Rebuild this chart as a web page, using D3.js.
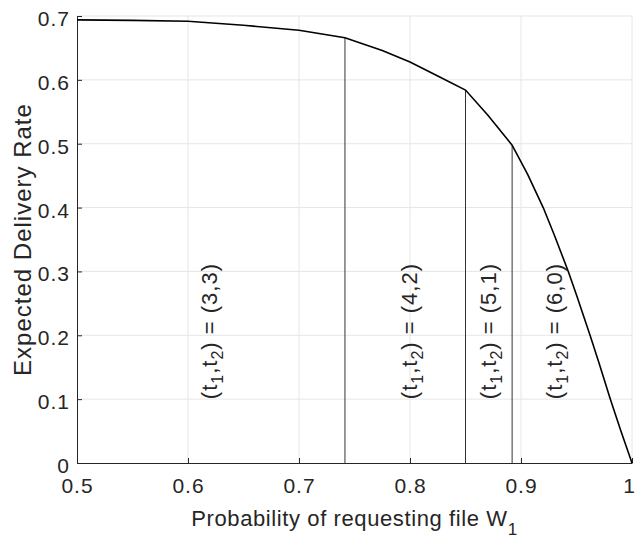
<!DOCTYPE html>
<html>
<head>
<meta charset="utf-8">
<script src="https://cdn.jsdelivr.net/npm/d3@7"></script>
<style>
  html, body { margin: 0; padding: 0; background: #fff; }
  svg text { font-family: "Liberation Sans", Arial, Helvetica, sans-serif; fill: #262626; }
</style>
</head>
<body>
<svg id="chart" width="636" height="538"></svg>
<script>
// ---- data ----
const curveX = [0.5, 0.55, 0.6, 0.65, 0.7, 0.7414, 0.775, 0.8, 0.825, 0.85, 0.87, 0.892, 0.906, 0.92, 0.93, 0.9426, 0.95, 0.9622, 0.97, 0.9805, 0.99, 1.0];
const curveY = [0.694, 0.6932, 0.6917, 0.6855, 0.6776, 0.666, 0.646, 0.628, 0.606, 0.584, 0.545, 0.4977, 0.452, 0.40, 0.357, 0.30, 0.263, 0.20, 0.158, 0.10, 0.05, 0.0];
const boundaryX = [0.7414, 0.85, 0.892];
const boundaryY = [0.666, 0.584, 0.4977];
const regionLabelX = [0.62, 0.80, 0.871, 0.931];
const regionLabelPairs = ["(3,3)", "(4,2)", "(5,1)", "(6,0)"];
const xTicks = [0.5, 0.6, 0.7, 0.8, 0.9, 1];
const yTicks = [0, 0.1, 0.2, 0.3, 0.4, 0.5, 0.6, 0.7];

// ---- layout ----
const svg = d3.select("#chart");
const x = d3.scaleLinear().domain([0.5, 1]).range([77, 632]);
const y = d3.scaleLinear().domain([0, 0.7]).range([463, 16]);

// grid
const grid = svg.append("g").attr("stroke", "#e6e6e6").attr("stroke-width", 1);
xTicks.filter(d => d > 0.5).forEach(d => {
  grid.append("line").attr("x1", x(d)).attr("x2", x(d)).attr("y1", y(0)).attr("y2", y(0.7));
});
yTicks.filter(d => d > 0).forEach(d => {
  grid.append("line").attr("x1", x(0.5)).attr("x2", x(1)).attr("y1", y(d)).attr("y2", y(d));
});

// axes
const xAxis = d3.axisBottom(x).tickValues(xTicks).tickSizeInner(-5).tickSizeOuter(0)
  .tickPadding(15).tickFormat(d => d === 1 ? "1" : d3.format(".1f")(d));
const yAxis = d3.axisLeft(y).tickValues(yTicks).tickSizeInner(-5).tickSizeOuter(0)
  .tickPadding(7).tickFormat(d => d === 0 ? "0" : d3.format(".1f")(d));

const gx = svg.append("g").attr("transform", `translate(0,${y(0)})`).call(xAxis);
const gy = svg.append("g").attr("transform", `translate(${x(0.5)},0)`).call(yAxis);
[gx, gy].forEach(g => {
  g.select(".domain").attr("stroke", "#262626").attr("stroke-width", 1);
  g.selectAll(".tick line").attr("stroke", "#262626");
  g.selectAll(".tick text").attr("font-size", 21).attr("fill", "#262626")
    .attr("letter-spacing", 1)
    .style("font-family", '"Liberation Sans", Arial, sans-serif');
});
gx.selectAll(".tick text").attr("dy", "0.72em");
gx.selectAll(".tick text").filter(d => d === 1).attr("dx", -3);
gy.selectAll(".tick text").attr("dy", "0.45em");

// boundary lines
boundaryX.forEach((bx, i) => {
  svg.append("line")
    .attr("x1", x(bx)).attr("x2", x(bx))
    .attr("y1", y(0)).attr("y2", y(boundaryY[i]))
    .attr("stroke", "#333").attr("stroke-width", 1);
});

// curve
const pts = curveX.map((cx, i) => [cx, curveY[i]]);
svg.append("path")
  .datum(pts)
  .attr("fill", "none")
  .attr("stroke", "#000")
  .attr("stroke-width", 1.6)
  .attr("d", d3.line().x(d => x(d[0])).y(d => y(d[1])));

// region labels
regionLabelX.forEach((lx, i) => {
  const t = svg.append("text")
    .attr("transform", `translate(${x(lx) + 7},${y(0.1)}) rotate(-90)`)
    .attr("font-size", 22)
    .attr("letter-spacing", 1)
    .attr("text-anchor", "start");
  t.append("tspan").text("(t");
  t.append("tspan").attr("font-size", 16).attr("dy", 6).text("1");
  t.append("tspan").attr("dy", -6).text(",t");
  t.append("tspan").attr("font-size", 16).attr("dy", 6).text("2");
  t.append("tspan").attr("dy", -6).text(") = " + regionLabelPairs[i]);
});

// x label
const xl = svg.append("text")
  .attr("x", (x(0.5) + x(1)) / 2)
  .attr("y", 526)
  .attr("font-size", 22)
  .attr("letter-spacing", 0.6)
  .attr("text-anchor", "middle");
xl.append("tspan").text("Probability of requesting file W");
xl.append("tspan").attr("font-size", 17).attr("dy", 9).text("1");

// y label
svg.append("text")
  .attr("transform", `translate(31,${(y(0) + y(0.7)) / 2}) rotate(-90)`)
  .attr("font-size", 24)
  .attr("letter-spacing", 1)
  .attr("text-anchor", "middle")
  .text("Expected Delivery Rate");
</script>
</body>
</html>
